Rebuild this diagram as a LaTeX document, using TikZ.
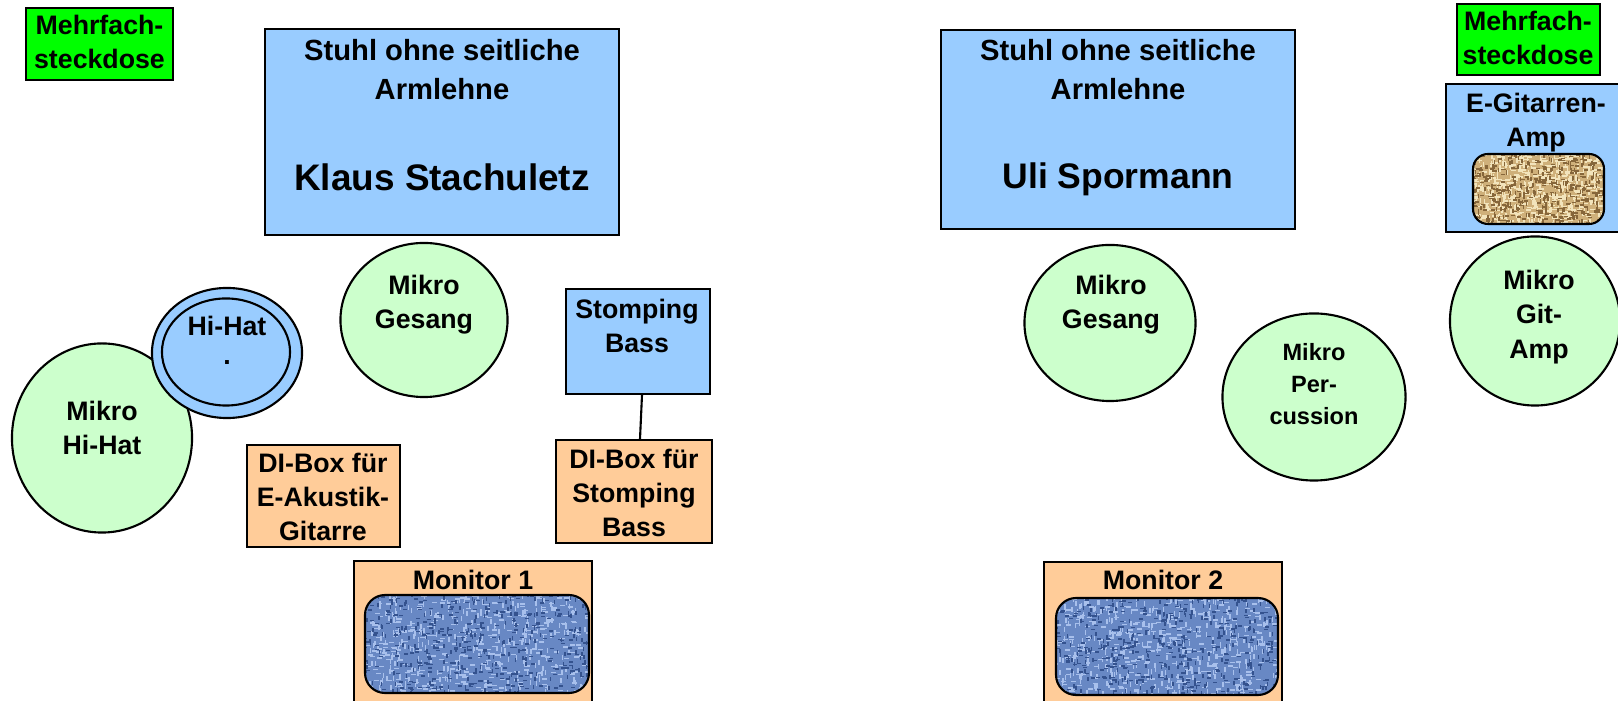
\documentclass[tikz,border=0pt]{standalone}
\usepackage{fontspec}
\setmainfont{Liberation Sans}
\usetikzlibrary{shapes.geometric,fit}
\definecolor{lblue}{HTML}{99CCFF}
\definecolor{lgreen}{HTML}{CCFFCC}
\definecolor{lorange}{HTML}{FFCC99}
\definecolor{vgreen}{HTML}{00FF00}
\definecolor{denim}{HTML}{6888C4}
\definecolor{denimlight}{HTML}{A8C0EC}
\definecolor{denimdark}{HTML}{34528E}
\definecolor{burlap}{HTML}{CFB07A}
\definecolor{burlaplight}{HTML}{F2E4BC}
\definecolor{burlapdark}{HTML}{86663A}
\newcommand\lblfont{\bfseries\fontsize{7.6}{9.7}\selectfont}
\newcommand\texturefill[8]{%
  \begin{scope}
  \clip[rounded corners=#8] (#1,#2) rectangle (#3,#4);
  \fill[#5] (#1,#2) rectangle (#3,#4);
  \foreach \k in {1,...,650}{%
    \pgfmathsetmacro\px{#1-4+rnd*(#3-#1+4)}%
    \pgfmathsetmacro\py{#2-4+rnd*(#4-#2+4)}%
    \pgfmathsetmacro\dir{rnd}%
    \ifdim\dir pt<0.5pt \fill[#6] (\px,\py) rectangle ++(5,1.5);\else\fill[#6] (\px,\py) rectangle ++(1.5,5);\fi
  }
  \foreach \k in {1,...,500}{%
    \pgfmathsetmacro\px{#1-4+rnd*(#3-#1+4)}%
    \pgfmathsetmacro\py{#2-4+rnd*(#4-#2+4)}%
    \pgfmathsetmacro\dir{rnd}%
    \ifdim\dir pt<0.5pt \fill[#7] (\px,\py) rectangle ++(4,1.5);\else\fill[#7] (\px,\py) rectangle ++(1.5,4);\fi
  }
  \end{scope}}
\tikzset{
  box/.style={draw=black, line width=0.6pt, inner sep=0pt, rectangle},
  mic/.style={draw=black, line width=0.6pt, ellipse, fill=lgreen, inner sep=0pt},
  tex/.style={draw=black, line width=0.6pt, inner sep=0pt, rectangle},
  lbl/.style={font=\lblfont, align=center, inner sep=0pt},
  chairlbl/.style={font=\bfseries\fontsize{8.3}{11.1}\selectfont, align=center, inner sep=0pt},
  conn/.style={draw=black, line width=0.6pt},
}
\begin{document}
\begin{tikzpicture}[x=0.01cm,y=-0.01cm]
\useasboundingbox (0,0) rectangle (1618,701);
\clip (0,0) rectangle (1618,701);
\pgfmathsetseed{7}
% ---------- left side ----------
\node[box, fill=vgreen, fit={(26,8)(173,80)}] (msL) {};
\node[lbl] (tmsL) at (99.5,42) {Mehrfach-\\steckdose};

\node[box, fill=lblue, fit={(265,29)(619,235)}] (chairL) {};
\node[chairlbl] (tchairL) at (442,70) {Stuhl ohne seitliche\\Armlehne};
\node[font=\bfseries\fontsize{10.5}{12}\selectfont, inner sep=0pt] (nameL) at (442,177) {Klaus Stachuletz};

\node[mic, minimum width=1.80cm, minimum height=1.89cm] (mhh) at (102,438) {};
\node[lbl] (tmhh) at (102,428) {Mikro\\Hi-Hat};

\node[ellipse, draw=black, line width=0.6pt, fill=lblue, inner sep=0pt, minimum width=1.50cm, minimum height=1.30cm] (hhout) at (227,353) {};
\node[ellipse, draw=black, line width=0.6pt, fill=lblue, inner sep=0pt, minimum width=1.28cm, minimum height=1.07cm] (hhin) at (226,352) {};
\node[lbl] (thh) at (227,326) {Hi-Hat};
\node[lbl] (thhdot) at (227,363) {.};

\node[mic, minimum width=1.67cm, minimum height=1.54cm] (gesL) at (424,320) {};
\node[lbl] (tgesL) at (424,305) {Mikro\\Gesang};

\node[box, fill=lblue, fit={(566,289)(710,394)}] (stomp) {};
\node[lbl] (tstomp) at (637,326) {Stomping\\Bass};

\node[box, fill=lorange, fit={(556,440)(712,543)}] (distomp) {};
\node[lbl] (tdistomp) at (634,493) {DI-Box für\\Stomping\\Bass};

\draw[conn] ([xshift=0.04cm]stomp.south) -- ([xshift=0.06cm]distomp.north);

\node[box, fill=lorange, fit={(247,445)(400,547)}] (diak) {};
\node[lbl] (tdiak) at (323,497) {DI-Box für\\E-Akustik-\\Gitarre};

\node[box, fill=lorange, fit={(354,561)(592,712)}] (mon1) {};
\node[lbl] (tmon1) at (473,580) {Monitor 1};
\texturefill{365}{595}{589}{693}{denim}{denimlight}{denimdark}{0.2cm}
\node[tex, rounded corners=0.2cm, fit={(365,595)(589,693)}] (spk1) {};

% ---------- right side ----------
\node[box, fill=lblue, fit={(941,30)(1295,229)}] (chairR) {};
\node[chairlbl] (tchairR) at (1118,70) {Stuhl ohne seitliche\\Armlehne};
\node[font=\bfseries\fontsize{10.1}{12}\selectfont, inner sep=0pt] (nameR) at (1118,179) {Uli Spormann};

\node[box, fill=vgreen, fit={(1457,4)(1600,75)}] (msR) {};
\node[lbl] (tmsR) at (1528,38) {Mehrfach-\\steckdose};

\node[box, fill=lblue, fit={(1446,84)(1625,232)}] (amp) {};
\node[lbl] (tamp) at (1536,123) {E-Gitarren-\\Amp};
\texturefill{1473}{154}{1604}{224}{burlap}{burlaplight}{burlapdark}{0.15cm}
\node[tex, rounded corners=0.15cm, fit={(1473,154)(1604,224)}] (ampspk) {};

\node[mic, minimum width=1.70cm, minimum height=1.69cm] (mamp) at (1535,321) {};
\node[lbl] (tmamp) at (1539,317) {Mikro\\Git-\\Amp};

\node[mic, minimum width=1.71cm, minimum height=1.56cm] (gesR) at (1110,323) {};
\node[lbl] (tgesR) at (1111,305) {Mikro\\Gesang};

\node[mic, minimum width=1.83cm, minimum height=1.67cm] (perc) at (1314,397) {};
\node[lbl, font=\bfseries\fontsize{6.7}{9.1}\selectfont] (tperc) at (1314,384) {Mikro\\Per-\\cussion};

\node[box, fill=lorange, fit={(1044,562)(1282,712)}] (mon2) {};
\node[lbl] (tmon2) at (1163,580) {Monitor 2};
\texturefill{1056}{598}{1278}{695}{denim}{denimlight}{denimdark}{0.2cm}
\node[tex, rounded corners=0.2cm, fit={(1056,598)(1278,695)}] (spk2) {};
\end{tikzpicture}
\end{document}
